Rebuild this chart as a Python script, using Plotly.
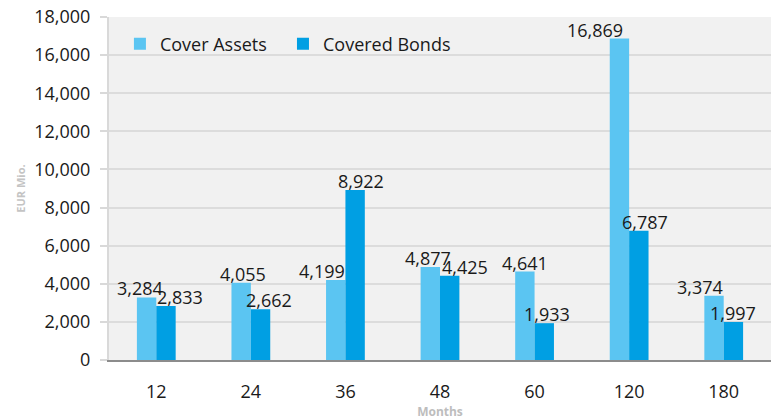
import plotly.graph_objects as go

categories = ["12", "24", "36", "48", "60", "120", "180"]
cover_assets = [3284, 4055, 4199, 4877, 4641, 16869, 3374]
covered_bonds = [2833, 2662, 8922, 4425, 1933, 6787, 1997]

# label horizontal nudges in px (style only)
ca_shift = [-7, 2, -14, -2, 0, -24, -14]
cb_shift = [14, 8, 6, 15, 3, 6, 0]

C1 = "#5BC5F2"
C2 = "#009FE3"
FONT = "Open Sans"

fig = go.Figure()
fig.add_trace(go.Bar(name="Cover Assets", x=categories, y=cover_assets, marker_color=C1,
                     marker_line_width=0, legend="legend"))
fig.add_trace(go.Bar(name="Covered Bonds", x=categories, y=covered_bonds, marker_color=C2,
                     marker_line_width=0, legend="legend2"))

half = 9.75
for i, c in enumerate(categories):
    fig.add_annotation(x=i, y=cover_assets[i], text=f"{cover_assets[i]:,}", showarrow=False,
                       xanchor="center", yanchor="bottom", xshift=-half + ca_shift[i], yshift=-5,
                       font=dict(family=FONT, size=18, color="#1a1a1a"))
    fig.add_annotation(x=i, y=covered_bonds[i], text=f"{covered_bonds[i]:,}", showarrow=False,
                       xanchor="center", yanchor="bottom", xshift=half + cb_shift[i], yshift=-5,
                       font=dict(family=FONT, size=18, color="#1a1a1a"))

leg_common = dict(orientation="h", xanchor="left", y=0.921, yanchor="middle",
                  bgcolor="rgba(0,0,0,0)", font=dict(family=FONT, size=18, color="#1a1a1a"),
                  itemclick=False, itemdoubleclick=False)

fig.update_layout(
    width=771, height=420,
    margin=dict(l=109, r=0, t=17, b=60),
    paper_bgcolor="white",
    plot_bgcolor="#F1F1F1",
    barmode="group",
    bargap=0.59,
    bargroupgap=0,
    font=dict(family=FONT, size=18, color="#1a1a1a"),
    legend=dict(x=0.0165, **leg_common),
    legend2=dict(x=0.2628, **leg_common),
    showlegend=True,
)
fig.update_xaxes(
    type="category", range=[-0.5, len(categories) - 0.5],
    showline=True, linecolor="#8C8C8C", linewidth=2,
    ticks="", ticklabelstandoff=14,
    tickfont=dict(family=FONT, size=18, color="#1a1a1a"),
    title=dict(text="<b>Months</b>", font=dict(family=FONT, size=12, color="#BDBDBD"), standoff=4),
    showgrid=False, automargin=False,
)
fig.update_yaxes(
    range=[0, 18000], dtick=2000, tickformat=",d",
    showline=True, linecolor="#D9D9D9", linewidth=2,
    ticks="outside", ticklen=7, tickcolor="#D9D9D9", tickwidth=2,
    ticklabelstandoff=6, ticklabeloverflow="allow",
    showgrid=True, gridcolor="#DCDCDC", gridwidth=2,
    zeroline=False,
    tickfont=dict(family=FONT, size=18, color="#1a1a1a"),
    title=dict(text="<b>EUR Mio.</b>", font=dict(family=FONT, size=11, color="#C4C4C4"), standoff=6),
    automargin=False,
)

# remove the default 8px page margin so the figure fills the window exactly
fig.write_html("out.html", config={"displayModeBar": False},
               post_script="document.body.style.margin='0';")
